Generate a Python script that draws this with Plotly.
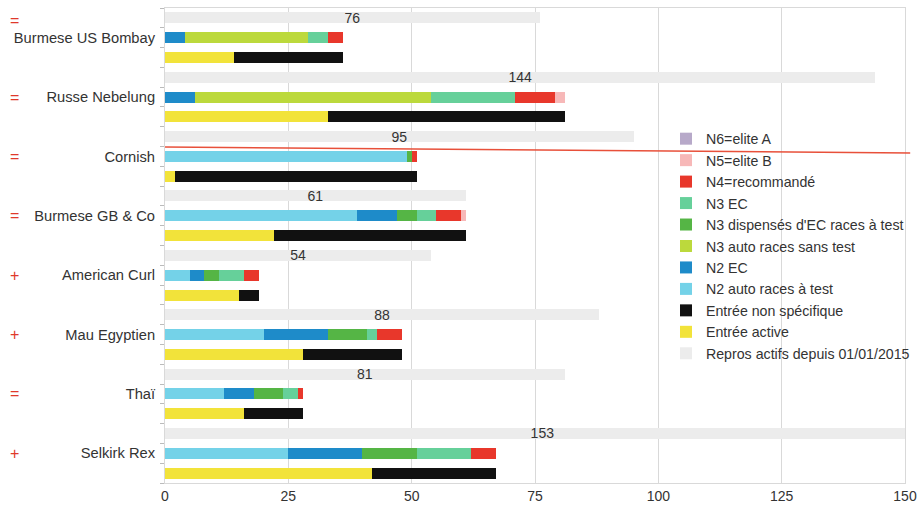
import plotly.graph_objects as go

categories = ["Burmese US Bombay", "Russe Nebelung", "Cornish", "Burmese GB & Co",
              "American Curl", "Mau Egyptien", "Thaï", "Selkirk Rex"]
trend_marks = ["=", "=", "=", "=", "+", "+", "=", "+"]

repros = [76, 144, 95, 61, 54, 88, 81, 153]
entree_active = [14, 33, 2, 22, 15, 28, 16, 42]
entree_non_spec = [22, 48, 49, 39, 4, 20, 12, 25]

n2_auto = [0, 0, 49, 39, 5, 20, 12, 25]
n2_ec = [4, 6, 0, 8, 3, 13, 6, 15]
n3_auto = [25, 48, 0, 0, 0, 0, 0, 0]
n3_disp = [0, 0, 1, 4, 3, 8, 6, 11]
n3_ec = [4, 17, 0, 4, 5, 2, 3, 11]
n4 = [3, 8, 1, 5, 3, 5, 1, 5]
n5 = [0, 2, 0, 1, 0, 0, 0, 0]
n6 = [0, 0, 0, 0, 0, 0, 0, 0]

FONT = "Liberation Sans, Arial, sans-serif"
idx = list(range(len(categories)))
OFF = 0.335
W = 0.185
y_rep = [i - OFF for i in idx]
y_lvl = [i for i in idx]
y_ent = [i + OFF for i in idx]

fig = go.Figure()

fig.add_trace(go.Bar(
    name="Repros actifs depuis 01/01/2015", y=y_rep, x=repros, orientation="h",
    width=W, marker=dict(color="#ececec", line=dict(width=0)),
    text=[str(v) for v in repros], textposition="inside", insidetextanchor="middle",
    textangle=0, constraintext="none",
    insidetextfont=dict(color="#333333", size=14, family=FONT),
    hoverinfo="x+name"))

fig.add_trace(go.Bar(name="Entrée active", y=y_ent, x=entree_active, orientation="h",
                     width=W, marker=dict(color="#f2e33a", line=dict(width=0))))
fig.add_trace(go.Bar(name="Entrée non spécifique", y=y_ent, x=entree_non_spec, orientation="h",
                     width=W, marker=dict(color="#111111", line=dict(width=0))))

levels = [
    ("N2 auto races à test", n2_auto, "#74d2e8"),
    ("N2 EC", n2_ec, "#1e8bc9"),
    ("N3 auto races sans test", n3_auto, "#bcd93c"),
    ("N3 dispensés d'EC races à test", n3_disp, "#55b545"),
    ("N3 EC", n3_ec, "#66d09a"),
    ("N4=recommandé", n4, "#e8372b"),
    ("N5=elite B", n5, "#f7b8b8"),
    ("N6=elite A", n6, "#b7a9c9"),
]
for name, vals, col in levels:
    fig.add_trace(go.Bar(name=name, y=y_lvl, x=vals, orientation="h", width=W,
                         marker=dict(color=col, line=dict(width=0))))

minor_vals = [i + f for i in idx for f in (-0.5, -1/6, 1/6)] + [len(idx) - 0.5]

fig.update_layout(
    barmode="stack",
    width=920, height=515,
    margin=dict(l=165, r=15, t=8, b=32, autoexpand=False),
    paper_bgcolor="white", plot_bgcolor="white",
    font=dict(family=FONT, color="#333333"),
    showlegend=True,
    legend=dict(x=0.677, y=0.758, xanchor="left", yanchor="top",
                traceorder="reversed", bgcolor="rgba(0,0,0,0)",
                font=dict(size=14.2, family=FONT, color="#333333"),
                itemwidth=30, tracegroupgap=0),
    xaxis=dict(range=[0, 150], tickvals=[0, 25, 50, 75, 100, 125, 150],
               automargin=False,
               showgrid=True, gridcolor="#d9d9d9", gridwidth=1,
               zeroline=False, showline=True, linecolor="#d9d9d9", mirror=True,
               ticks="", tickfont=dict(size=14, family=FONT, color="#333333")),
    yaxis=dict(range=[len(idx) - 0.5, -0.5], tickvals=idx, ticktext=categories,
               automargin=False,
               showgrid=False, zeroline=False, showline=True, linecolor="#d9d9d9", mirror=True,
               ticks="", ticklabelstandoff=6,
               tickfont=dict(size=14.7, family=FONT, color="#333333"),
               minor=dict(tickvals=minor_vals, ticks="outside", ticklen=4, tickcolor="#bbbbbb",
                          showgrid=False)),
)

for i, m in enumerate(trend_marks):
    fig.add_annotation(x=-0.203, xref="paper", y=i, yref="y", text=m, showarrow=False,
                       xanchor="center", yshift=17 if i == 0 else 0,
                       font=dict(size=16, color="#e0392b", family=FONT))

fig.add_shape(type="line", xref="paper", yref="paper", x0=0, x1=1.007,
              y0=1 - (147 - 8) / 475, y1=1 - (153 - 8) / 475,
              line=dict(color="#e8503a", width=1.5))

fig.write_html("out.html", config={"displayModeBar": False},
               post_script="document.body.style.margin='0px';")
